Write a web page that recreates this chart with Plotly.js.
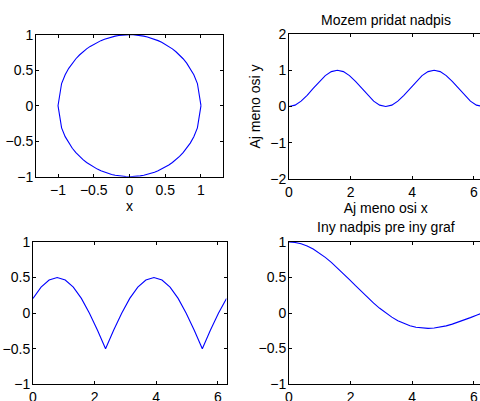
<!DOCTYPE html>
<html>
<head>
<meta charset="utf-8">
<script src="https://cdn.plot.ly/plotly-3.0.1.min.js"></script>
<style>
html,body{margin:0;padding:0;overflow:hidden;background:#fff;width:480px;height:401px;}
#chart{width:490px;height:420px;}
</style>
</head>
<body>
<div id="chart"></div>
<script>
// Subplot 1: circle (points read along x in steps of 0.05)
var circleX = [1, 0.95, 0.9, 0.85, 0.8, 0.75, 0.7, 0.65, 0.6, 0.55, 0.5, 0.45, 0.4, 0.35, 0.3, 0.25, 0.2, 0.15, 0.1, 0.05, 0,
  -0.05, -0.1, -0.15, -0.2, -0.25, -0.3, -0.35, -0.4, -0.45, -0.5, -0.55, -0.6, -0.65, -0.7, -0.75, -0.8, -0.85, -0.9, -0.95, -1,
  -0.95, -0.9, -0.85, -0.8, -0.75, -0.7, -0.65, -0.6, -0.55, -0.5, -0.45, -0.4, -0.35, -0.3, -0.25, -0.2, -0.15, -0.1, -0.05, 0,
  0.05, 0.1, 0.15, 0.2, 0.25, 0.3, 0.35, 0.4, 0.45, 0.5, 0.55, 0.6, 0.65, 0.7, 0.75, 0.8, 0.85, 0.9, 0.95, 1];
var circleY = [0, 0.3122, 0.4359, 0.5268, 0.6, 0.6614, 0.7141, 0.7599, 0.8, 0.8352, 0.8660, 0.8930, 0.9165, 0.9367, 0.9539, 0.9682, 0.9798, 0.9887, 0.9950, 0.9987, 1,
  0.9987, 0.9950, 0.9887, 0.9798, 0.9682, 0.9539, 0.9367, 0.9165, 0.8930, 0.8660, 0.8352, 0.8, 0.7599, 0.7141, 0.6614, 0.6, 0.5268, 0.4359, 0.3122, 0,
  -0.3122, -0.4359, -0.5268, -0.6, -0.6614, -0.7141, -0.7599, -0.8, -0.8352, -0.8660, -0.8930, -0.9165, -0.9367, -0.9539, -0.9682, -0.9798, -0.9887, -0.9950, -0.9987, -1,
  -0.9987, -0.9950, -0.9887, -0.9798, -0.9682, -0.9539, -0.9367, -0.9165, -0.8930, -0.8660, -0.8352, -0.8, -0.7599, -0.7141, -0.6614, -0.6, -0.5268, -0.4359, -0.3122, 0];

// Subplot 2
var x2 = [0, 0.1963, 0.3927, 0.5890, 0.7854, 0.9817, 1.1781, 1.3744, 1.5708, 1.7671, 1.9635, 2.1598, 2.3562, 2.5525, 2.7489, 2.9452, 3.1416, 3.3379, 3.5343, 3.7306, 3.9270, 4.1233, 4.3197, 4.5160, 4.7124, 4.9087, 5.1051, 5.3014, 5.4978, 5.6941, 5.8905, 6.0868, 6.2832];
var y2 = [0, 0.0381, 0.1464, 0.3087, 0.5, 0.6913, 0.8536, 0.9619, 1, 0.9619, 0.8536, 0.6913, 0.5, 0.3087, 0.1464, 0.0381, 0, 0.0381, 0.1464, 0.3087, 0.5, 0.6913, 0.8536, 0.9619, 1, 0.9619, 0.8536, 0.6913, 0.5, 0.3087, 0.1464, 0.0381, 0];

// Subplot 3
var x3 = [0, 0.2618, 0.5236, 0.7854, 1.0472, 1.3090, 1.5708, 1.8326, 2.0944, 2.3562, 2.6180, 2.8798, 3.1416, 3.4034, 3.6652, 3.9270, 4.1888, 4.4506, 4.7124, 4.9742, 5.2360, 5.4978, 5.7596, 6.0214, 6.2832];
var y3 = [0.2071, 0.3660, 0.4659, 0.5, 0.4659, 0.3660, 0.2071, 0, -0.2412, -0.5, -0.2412, 0, 0.2071, 0.3660, 0.4659, 0.5, 0.4659, 0.3660, 0.2071, 0, -0.2412, -0.5, -0.2412, 0, 0.2071];

// Subplot 4
var x4 = [0, 0.1963, 0.3927, 0.5890, 0.7854, 0.9817, 1.1781, 1.3744, 1.5708, 1.7671, 1.9635, 2.1598, 2.3562, 2.5525, 2.7489, 2.9452, 3.1416, 3.3379, 3.5343, 3.7306, 3.9270, 4.1233, 4.3197, 4.5160, 4.7124, 4.9087, 5.1051, 5.3014, 5.4978, 5.6941, 5.8905, 6.0868, 6.2832];
var y4 = [1, 0.99359, 0.97450, 0.94316, 0.90032, 0.84692, 0.78421, 0.71359, 0.63662, 0.55501, 0.47052, 0.38497, 0.30011, 0.21765, 0.13921, 0.06624, 0, -0.05845, -0.10828, -0.14892, -0.18006, -0.20165, -0.21388, -0.21718, -0.21221, -0.19981, -0.18097, -0.15684, -0.12862, -0.09757, -0.06497, -0.03205, 0];

var titles = ["Mozem pridat nadpis", "Iny nadpis pre iny graf"];
var axisTitles = {x1: "x", x2: "Aj meno osi x", y2: "Aj meno osi y"};

var W = 490, H = 420;
function dx(a, b){ return [a / W, b / W]; }
function dy(top, bottom){ return [(H - bottom) / H, (H - top) / H]; }

var FONT = {family: "Liberation Sans, Arial, sans-serif", size: 14, color: "#000"};
var line = {color: "#0000ff", width: 1.1};

var traces = [
  {x: circleX, y: circleY, xaxis: "x", yaxis: "y", mode: "lines", line: line, hoverinfo: "none"},
  {x: x2, y: y2, xaxis: "x2", yaxis: "y2", mode: "lines", line: line, hoverinfo: "none"},
  {x: x3, y: y3, xaxis: "x3", yaxis: "y3", mode: "lines", line: line, hoverinfo: "none"},
  {x: x4, y: y4, xaxis: "x4", yaxis: "y4", mode: "lines", line: line, hoverinfo: "none"}
];

function ax(extra){
  var base = {
    showline: true, linecolor: "#000", linewidth: 1, mirror: "ticks",
    ticks: "inside", ticklen: 3, tickcolor: "#000", tickwidth: 1,
    showgrid: false, zeroline: false, automargin: false,
    tickfont: FONT, fixedrange: true
  };
  for (var k in extra) base[k] = extra[k];
  return base;
}

var layout = {
  width: W, height: H,
  margin: {l: 0, r: 0, t: 0, b: 0},
  paper_bgcolor: "#fff", plot_bgcolor: "#fff",
  showlegend: false,
  font: FONT,
  xaxis: ax({domain: dx(36, 223), range: [-1.308, 1.308], dtick: 0.5, anchor: "y", title: {text: axisTitles.x1, font: FONT, standoff: 4}}),
  yaxis: ax({domain: dy(34.7, 176.7), range: [-1, 1], dtick: 0.5, anchor: "x", ticklabelstandoff: -1}),
  xaxis2: ax({domain: dx(289, 482.5), range: [0, 6.2832], dtick: 2, anchor: "y2", title: {text: axisTitles.x2, font: FONT, standoff: 4}}),
  yaxis2: ax({domain: dy(34, 179), range: [-2, 2], dtick: 1, anchor: "x2", ticklabelstandoff: -1, title: {text: axisTitles.y2, font: FONT, standoff: 6}}),
  xaxis3: ax({domain: dx(33, 226.5), range: [0, 6.2832], dtick: 2, anchor: "y3"}),
  yaxis3: ax({domain: dy(242, 384.3), range: [-1, 1], dtick: 0.5, anchor: "x3", ticklabelstandoff: -1}),
  xaxis4: ax({domain: dx(289, 482.5), range: [0, 6.2832], dtick: 2, anchor: "y4"}),
  yaxis4: ax({domain: dy(242, 384), range: [-1, 1], dtick: 0.5, anchor: "x4", ticklabelstandoff: -1}),
  annotations: [
    {text: titles[0], x: 385.7 / W, y: (H - 20) / H, xref: "paper", yref: "paper", showarrow: false, xanchor: "center", yanchor: "middle", font: FONT},
    {text: titles[1], x: 385.7 / W, y: (H - 227) / H, xref: "paper", yref: "paper", showarrow: false, xanchor: "center", yanchor: "middle", font: FONT}
  ]
};

Plotly.newPlot("chart", traces, layout, {staticPlot: true, displayModeBar: false});
</script>
</body>
</html>
